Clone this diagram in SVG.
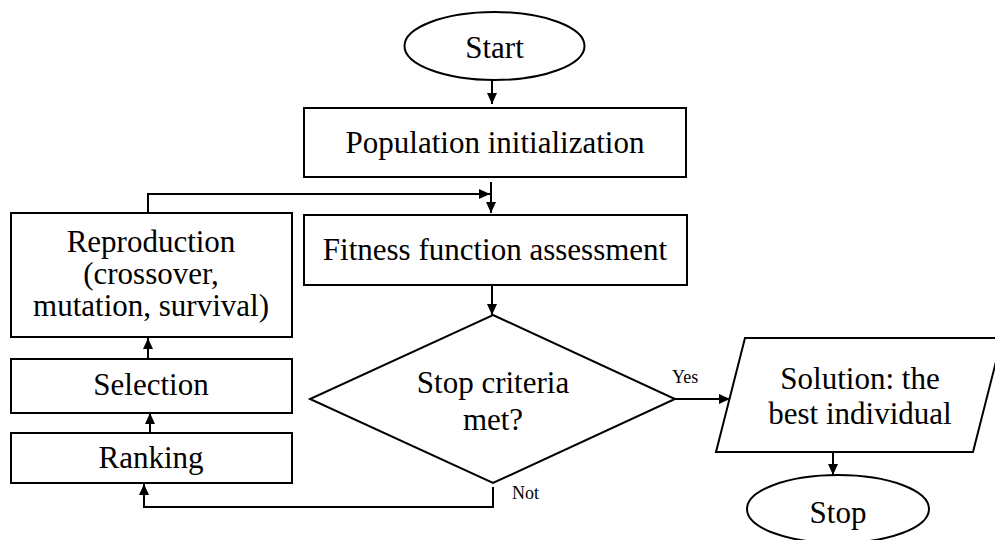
<svg xmlns="http://www.w3.org/2000/svg" width="995" height="540" viewBox="0 0 995 540" font-family="Liberation Serif, Times New Roman, serif">
<defs>
<marker id="ah" markerUnits="userSpaceOnUse" markerWidth="12" markerHeight="10" refX="11" refY="5" orient="auto">
<path d="M0,0 L11,5 L0,10 Z" fill="#000"/>
</marker>
<style>
.s{fill:#fff;stroke:#000;stroke-width:2}
.c{fill:none;stroke:#000;stroke-width:2;marker-end:url(#ah)}
.t{font-family:Liberation Serif,serif;font-size:31px;fill:#000;text-anchor:middle}
.sm{font-family:Liberation Serif,serif;font-size:18px;fill:#000}
</style>
</defs>
<rect width="995" height="540" fill="#fff"/>
<g id="connectors">
<path class="c" d="M492,80 L492,104"/>
<path class="c" d="M491,182 L491,213"/>
<path class="c" d="M148,213 L148,194 L490,194"/>
<path class="c" d="M492,285 L492,315"/>
<path class="c" d="M675,399 L730,399"/>
<path class="c" d="M833,452 L833,475"/>
<path class="c" d="M493,487 L493,507 L144,507 L144,484"/>
<path class="c" d="M150,433 L150,413"/>
<path class="c" d="M148,359 L148,338"/>
<text class="sm" x="672" y="383">Yes</text>
<text class="sm" x="512" y="499">Not</text>
</g>
<g id="start">
<ellipse class="s" cx="494.5" cy="46" rx="90" ry="34"/>
<text class="t" x="494.5" y="58">Start</text>
</g>
<g id="population">
<rect class="s" x="304" y="108" width="382" height="69"/>
<text class="t" x="495" y="153">Population initialization</text>
</g>
<g id="fitness">
<rect class="s" x="304" y="215" width="383" height="70"/>
<text class="t" x="495" y="260">Fitness function assessment</text>
</g>
<g id="decision">
<polygon class="s" points="493,315 675,399 493,483 310,399"/>
<text class="t" x="493" y="393">Stop criteria</text>
<text class="t" x="493" y="430">met?</text>
</g>
<g id="solution">
<polygon class="s" points="745,338 1002,338 973,452 716,452"/>
<text class="t" x="860" y="389">Solution: the</text>
<text class="t" x="860" y="424">best individual</text>
</g>
<g id="stop">
<ellipse class="s" cx="838" cy="509" rx="91" ry="34"/>
<text class="t" x="838" y="523">Stop</text>
</g>
<g id="reproduction">
<rect class="s" x="11" y="213" width="281" height="124"/>
<text class="t" x="151" y="252">Reproduction</text>
<text class="t" x="151" y="284">(crossover,</text>
<text class="t" x="151" y="316">mutation, survival)</text>
</g>
<g id="selection">
<rect class="s" x="11" y="359" width="281" height="54"/>
<text class="t" x="151" y="395">Selection</text>
</g>
<g id="ranking">
<rect class="s" x="11" y="433" width="281" height="50"/>
<text class="t" x="151" y="468">Ranking</text>
</g>
</svg>
